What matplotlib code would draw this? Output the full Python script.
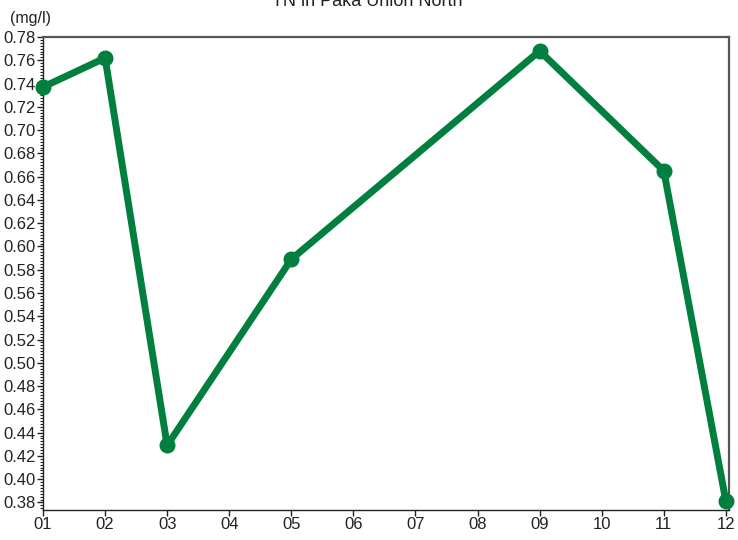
import numpy as np
import matplotlib.pyplot as plt
from matplotlib.ticker import MultipleLocator

# Data
months = [1, 2, 3, 5, 9, 11, 12]
tn_values = [0.737, 0.762, 0.429, 0.589, 0.768, 0.665, 0.381]
month_labels = ['01', '02', '03', '04', '05', '06', '07', '08', '09', '10', '11', '12']
y_ticks = np.arange(0.38, 0.7801, 0.02)

plt.rcParams['font.family'] = ['Liberation Sans', 'DejaVu Sans']

fig = plt.figure(figsize=(7.38, 5.40), dpi=100)
ax = fig.add_axes([43 / 738, 1 - 510 / 540, (729 - 43) / 738, (510 - 37) / 540])

ax.plot(months, tn_values, color='#007f3e', linewidth=5, marker='o',
        markersize=10.5, solid_capstyle='round', clip_on=False, zorder=3)

ax.set_xlim(1, 12.05)
ax.set_ylim(0.3735, 0.78)
ax.set_xticks(range(1, 13))
ax.set_xticklabels(month_labels)
ax.set_yticks(y_ticks)
ax.set_yticklabels(['%.2f' % v for v in y_ticks])
ax.yaxis.set_minor_locator(MultipleLocator(0.0025))

ax.tick_params(axis='both', which='major', labelsize=12, direction='out',
               length=4, width=1, pad=1, colors='#222222')
ax.tick_params(axis='y', which='minor', length=2, width=0.8, color='#222222')

for side in ['left', 'bottom']:
    ax.spines[side].set_color('#222222')
    ax.spines[side].set_linewidth(1)
for side in ['top', 'right']:
    ax.spines[side].set_color('#555555')
    ax.spines[side].set_linewidth(1.6)

fig.text(367 / 738, 1 - 1 / 540, 'TN in Paka Union North', ha='center', va='center',
         fontsize=13, color='#222222')
fig.text(10 / 738, 1 - 18 / 540, '(mg/l)', ha='left', va='center',
         fontsize=11.5, color='#222222')

fig.savefig('out.png', dpi=100)
